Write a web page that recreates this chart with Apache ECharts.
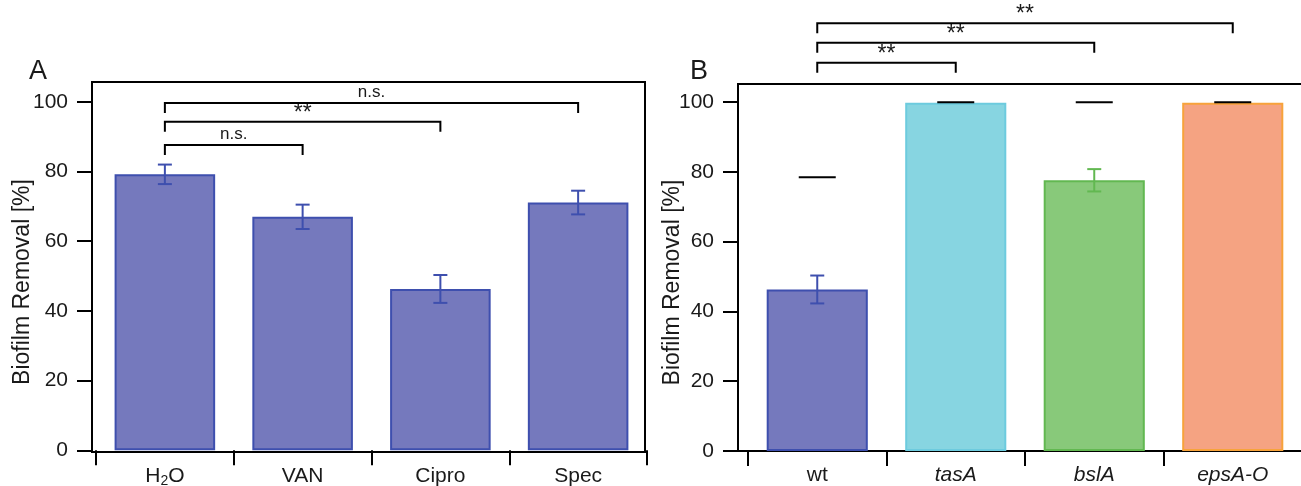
<!DOCTYPE html>
<html>
<head>
<meta charset="utf-8">
<script src="https://cdn.jsdelivr.net/npm/echarts@6/dist/echarts.min.js"></script>
<style>
html,body{margin:0;padding:0;background:#fff;}
#chart{width:1301px;height:486px;}
</style>
</head>
<body>
<div id="chart"></div>
<script>
// ---- data ----
const catsA = ['H2O', 'VAN', 'Cipro', 'Spec'];
const valsA = [79.2, 67.0, 46.3, 71.1];
const errA = [2.8, 3.5, 4.0, 3.4];
const sigA = [[0, 1, 87.6, 'n.s.'], [0, 2, 94.3, '**'], [0, 3, 99.7, 'n.s.']];

const catsB = ['wt', 'tasA', 'bslA', 'epsA-O'];
const valsB = [46.3, 99.8, 77.6, 99.8];
const errB = [4.0, 0, 3.2, 0];
const refB = [78.5, 100, 100, 100];
const sigB = [[0, 1, 111.3, '**'], [0, 2, 117.0, '**'], [0, 3, 122.6, '**']];

const yTicks = [0, 20, 40, 60, 80, 100];
const yName = 'Biofilm Removal [%]';

// ---- styles ----
const FONT = '"Liberation Sans", Arial, Helvetica, sans-serif';
const TXT = '#1a1a1a';
const fillA = '#7579BD', edgeA = '#3E4FAE';
const fillsB = ['#7579BD', '#87D5E1', '#88C97A', '#F5A382'];
const edgesB = ['#3E4FAE', '#6DCBDE', '#62B851', '#F7A33B'];

const chart = echarts.init(document.getElementById('chart'), null, {renderer: 'canvas'});

function errRender(colors) {
  return function (params, api) {
    const i = params.dataIndex;
    const lo = api.coord([api.value(0), api.value(1)]);
    const hi = api.coord([api.value(0), api.value(2)]);
    if (Math.abs(lo[1] - hi[1]) < 0.5) return null;
    const c = colors[i];
    const w = 7;
    const st = {stroke: c, lineWidth: 2};
    return {
      type: 'group',
      children: [
        {type: 'line', shape: {x1: lo[0], y1: lo[1], x2: hi[0], y2: hi[1]}, style: st},
        {type: 'line', shape: {x1: lo[0] - w, y1: lo[1], x2: lo[0] + w, y2: lo[1]}, style: st},
        {type: 'line', shape: {x1: hi[0] - w, y1: hi[1], x2: hi[0] + w, y2: hi[1]}, style: st}
      ]
    };
  };
}

function sigRender(sig, fontSizes) {
  return function (params, api) {
    const s = sig[params.dataIndex];
    const p1 = api.coord([s[0], s[2]]);
    const p2 = api.coord([s[1], s[2]]);
    const leg = 10;
    const label = s[3];
    const star = label === '**';
    return {
      type: 'group',
      children: [
        {type: 'polyline', shape: {points: [[p1[0], p1[1] + leg], [p1[0], p1[1]], [p2[0], p2[1]], [p2[0], p2[1] + leg]]},
          style: {stroke: '#000', lineWidth: 2, fill: null}},
        {type: 'text', x: (p1[0] + p2[0]) / 2, y: p1[1] + (star ? 3 : -2),
          style: {text: label, fill: TXT, font: (star ? fontSizes[1] : fontSizes[0]) + 'px ' + FONT,
            textAlign: 'center', textVerticalAlign: 'bottom'}}
      ]
    };
  };
}

function dashRender(params, api) {
  const p = api.coord([api.value(0), api.value(1)]);
  return {type: 'line', shape: {x1: p[0] - 18.5, y1: p[1], x2: p[0] + 18.5, y2: p[1]},
    style: {stroke: '#000', lineWidth: 2}};
}

const yLabelStyle = {fontSize: 21, color: TXT, fontFamily: FONT, margin: 24, customValues: yTicks};
const yTickStyle = {show: true, inside: false, length: 15, lineStyle: {color: '#000', width: 2}, customValues: yTicks};

function frameY(grid, min, max, gap) {
  return {
    gridIndex: grid, type: 'value', min: min, max: max,
    name: yName, nameLocation: 'middle', nameGap: gap, nameMoveOverlap: false,
    nameTextStyle: {fontSize: 23, color: TXT, fontFamily: FONT, padding: [0, 30, 0, 0]},
    axisLine: {show: true, lineStyle: {color: '#000', width: 2}},
    axisTick: yTickStyle, axisLabel: yLabelStyle,
    splitLine: {show: false}
  };
}

function catX(grid, cats, fmt) {
  return {
    gridIndex: grid, type: 'category', data: cats, boundaryGap: true,
    axisLine: {show: false},
    axisTick: {show: true, inside: false, length: 15, interval: 0, alignWithLabel: false, lineStyle: {color: '#000', width: 2}},
    axisLabel: {
      interval: 0, margin: 12, color: TXT, fontSize: 21, fontFamily: FONT, formatter: fmt,
      rich: {
        n: {fontSize: 21, fontFamily: FONT, color: TXT, lineHeight: 24},
        s: {fontSize: 14, fontFamily: FONT, color: TXT, lineHeight: 8, verticalAlign: 'bottom'},
        i: {fontSize: 21, fontFamily: FONT, color: TXT, fontStyle: 'italic', lineHeight: 24}
      }
    },
    splitLine: {show: false}
  };
}

const option = {
  animation: false,
  backgroundColor: '#fff',
  title: [
    {text: 'A', left: 29, top: 58, padding: 0, textStyle: {fontSize: 27, fontWeight: 'normal', color: TXT, fontFamily: FONT}},
    {text: 'B', left: 690, top: 58, padding: 0, textStyle: {fontSize: 27, fontWeight: 'normal', color: TXT, fontFamily: FONT}}
  ],
  grid: [
    {left: 92, top: 82, width: 553, height: 370, outerBoundsMode: 'none', containLabel: false, show: true, borderColor: '#000', borderWidth: 2, backgroundColor: 'transparent'},
    {left: 96, top: 82, width: 551, height: 370, outerBoundsMode: 'none', containLabel: false},
    {left: 738, top: 84, width: 600, height: 367, outerBoundsMode: 'none', containLabel: false, show: true, borderColor: '#000', borderWidth: 2, backgroundColor: 'transparent'},
    {left: 748, top: 84, width: 554, height: 367, outerBoundsMode: 'none', containLabel: false}
  ],
  xAxis: [
    {gridIndex: 0, type: 'value', show: false},
    catX(1, catsA, function (v) { return v === 'H2O' ? '{n|H}{s|2}{n|O}' : '{n|' + v + '}'; }),
    {gridIndex: 2, type: 'value', show: false},
    catX(3, catsB, function (v) { return v === 'wt' ? '{n|' + v + '}' : '{i|' + v + '}'; })
  ],
  yAxis: [
    frameY(0, -0.5, 105.7, 58),
    {gridIndex: 1, type: 'value', min: -0.5, max: 105.7, show: false, splitLine: {show: false}},
    frameY(2, 0, 105.2, 54),
    {gridIndex: 3, type: 'value', min: 0, max: 105.2, show: false, splitLine: {show: false}}
  ],
  series: [
    {
      type: 'bar', xAxisIndex: 1, yAxisIndex: 1, barWidth: '73%',
      data: valsA.map(function (v) { return {value: v, itemStyle: {color: fillA, borderColor: edgeA, borderWidth: 2}}; })
    },
    {
      type: 'custom', xAxisIndex: 1, yAxisIndex: 1, clip: false, z: 5,
      renderItem: errRender(valsA.map(function () { return edgeA; })),
      data: valsA.map(function (v, i) { return [i, v - errA[i], v + errA[i]]; })
    },
    {
      type: 'custom', xAxisIndex: 1, yAxisIndex: 1, clip: false, z: 5,
      renderItem: sigRender(sigA, [17, 23]),
      data: sigA.map(function (s) { return [s[0], s[2]]; })
    },
    {
      type: 'bar', xAxisIndex: 3, yAxisIndex: 3, barWidth: '73%',
      data: valsB.map(function (v, i) { return {value: v, itemStyle: {color: fillsB[i], borderColor: edgesB[i], borderWidth: 2}}; })
    },
    {
      type: 'custom', xAxisIndex: 3, yAxisIndex: 3, clip: false, z: 5,
      renderItem: errRender(edgesB),
      data: valsB.map(function (v, i) { return [i, v - errB[i], v + errB[i]]; })
    },
    {
      type: 'custom', xAxisIndex: 3, yAxisIndex: 3, clip: false, z: 6,
      renderItem: dashRender,
      data: refB.map(function (v, i) { return [i, v]; })
    },
    {
      type: 'custom', xAxisIndex: 3, yAxisIndex: 3, clip: false, z: 5,
      renderItem: sigRender(sigB, [17, 23]),
      data: sigB.map(function (s) { return [s[0], s[2]]; })
    }
  ]
};
chart.setOption(option);
</script>
</body>
</html>
